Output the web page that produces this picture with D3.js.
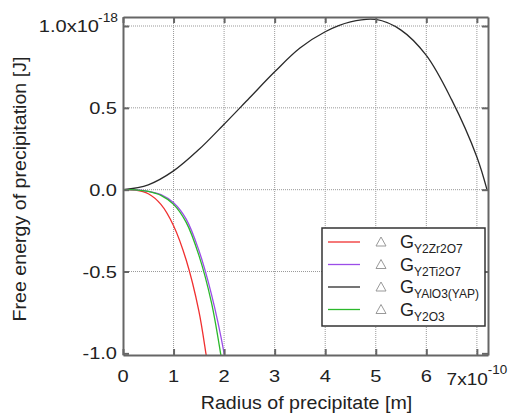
<!DOCTYPE html>
<html>
<head>
<meta charset="utf-8">
<script src="https://cdn.jsdelivr.net/npm/d3@7"></script>
<style>
body { margin: 0; background: #fff; }
text { font-family: "Liberation Sans", Arial, sans-serif; fill: #222; }
</style>
</head>
<body>
<script>
var w = 509, h = 416;
var margin = { left: 123, right: 21, top: 17, bottom: 61 };

// radius in 1e-10 m, energy in 1e-18 J
var rYAP = [0, 0.5, 1, 1.5, 2, 2.5, 3, 3.5, 4, 4.5, 5, 5.5, 6, 6.5, 7, 7.2];
var gYAP = [0, 0.03, 0.115, 0.245, 0.40, 0.56, 0.72, 0.865, 0.965, 1.025, 1.04, 0.975, 0.82, 0.55, 0.20, 0.0];
var rZr = [0, 0.25, 0.5, 0.75, 1, 1.25, 1.5, 1.64, 1.66];
var gZr = [0, -0.003, -0.025, -0.09, -0.22, -0.43, -0.74, -1.0, -1.04];
var rTi = [0, 0.25, 0.5, 0.75, 1, 1.25, 1.5, 1.75, 2.0, 2.02];
var gTi = [0, -0.001, -0.01, -0.03, -0.08, -0.18, -0.37, -0.64, -1.0, -1.04];
var rY2O3 = [0, 0.25, 0.5, 0.75, 1, 1.25, 1.5, 1.75, 1.93, 1.95];
var gY2O3 = [0, -0.001, -0.011, -0.035, -0.09, -0.2, -0.4, -0.69, -1.0, -1.04];

var xTicks = [0, 1, 2, 3, 4, 5, 6, 7];
var yTicks = [-1.0, -0.5, 0.0, 0.5, 1.0];
var yTickLabels = ["-1.0", "-0.5", "0.0", "0.5", "1.0x10"];

var series = [
    { name: "Y2Zr2O7", r: rZr, g: gZr, color: "#f03030" },
    { name: "Y2Ti2O7", r: rTi, g: gTi, color: "#9b4de8" },
    { name: "YAlO3(YAP)", r: rYAP, g: gYAP, color: "#2a2a2a" },
    { name: "Y2O3", r: rY2O3, g: gY2O3, color: "#2bb82b" }
];

var svg = d3.select("body").append("svg").attr("width", w).attr("height", h);

var x = d3.scaleLinear().domain([0, 7.22]).range([margin.left, w - margin.right]);
var y = d3.scaleLinear().domain([-1.01, 1.055]).range([h - margin.bottom, margin.top]);

var x0 = x.range()[0], x1 = x.range()[1], y0 = y.range()[0], y1 = y.range()[1];

// the original font is a bit wider than Liberation Sans, so stretch it
function label(px, py, size, sx, anchor) {
    return svg.append("text")
        .attr("transform", "translate(" + px + "," + py + ") scale(" + sx + ",1)")
        .attr("text-anchor", anchor).attr("font-size", size);
}

// grid
svg.append("g").selectAll("line").data(xTicks.slice(1)).enter().append("line")
    .attr("x1", function (d) { return x(d); }).attr("x2", function (d) { return x(d); })
    .attr("y1", y1).attr("y2", y0)
    .attr("stroke", "#999").attr("stroke-width", 1).attr("stroke-dasharray", "1,1");
svg.append("g").selectAll("line").data(yTicks.slice(1)).enter().append("line")
    .attr("x1", x0).attr("x2", x1)
    .attr("y1", function (d) { return y(d); }).attr("y2", function (d) { return y(d); })
    .attr("stroke", "#999").attr("stroke-width", 1).attr("stroke-dasharray", "1,1");

// curves
svg.append("clipPath").attr("id", "clip").append("rect")
    .attr("x", x0).attr("y", y1).attr("width", x1 - x0).attr("height", y0 - y1);

var line = d3.line()
    .x(function (d) { return x(d[0]); })
    .y(function (d) { return y(d[1]); })
    .curve(d3.curveCatmullRom);

svg.append("g").attr("clip-path", "url(#clip)").selectAll("path")
    .data(series).enter().append("path")
    .attr("d", function (s) { return line(s.r.map(function (v, i) { return [v, s.g[i]]; })); })
    .attr("fill", "none")
    .attr("stroke", function (s) { return s.color; })
    .attr("stroke-width", 1.3);

// axes with inward ticks
var axisColor = "#666";
svg.append("g").attr("transform", "translate(0," + y0 + ")")
    .call(d3.axisBottom(x).tickValues(xTicks).tickSizeInner(-6).tickSizeOuter(0).tickFormat(""));
svg.append("g").attr("transform", "translate(0," + y1 + ")")
    .call(d3.axisTop(x).tickValues(xTicks).tickSizeInner(-6).tickSizeOuter(0).tickFormat(""));
svg.append("g").attr("transform", "translate(" + x0 + ",0)")
    .call(d3.axisLeft(y).tickValues(yTicks).tickSizeInner(-6).tickSizeOuter(0).tickFormat(""));
svg.append("g").attr("transform", "translate(" + x1 + ",0)")
    .call(d3.axisRight(y).tickValues(yTicks).tickSizeInner(-6).tickSizeOuter(0).tickFormat(""));
svg.selectAll(".domain").attr("stroke", axisColor).attr("stroke-width", 2);
svg.selectAll(".tick line").attr("stroke", axisColor).attr("stroke-width", 2);

// tick labels
xTicks.slice(0, 7).forEach(function (d) {
    label(x(d), y0 + 27, 17, 1.18, "middle").text(d);
});
var t7 = label(x(7), y0 + 30, 17, 1.12, "middle");
t7.append("tspan").text("7x10");
t7.append("tspan").attr("dy", -11).attr("font-size", 12).text("-10");

yTicks.forEach(function (d, i) {
    label(i === 4 ? x0 - 24 : x0 - 6, y(d) + 6, 17, 1.18, "end").text(yTickLabels[i]);
});
label(x0 - 5, y(1.0) - 4, 12, 1.15, "end").text("-18");

// axis titles
label((x0 + x1) / 2 + 1, h - 7, 18, 1.09, "middle").text("Radius of precipitate [m]");
svg.append("text").attr("transform", "translate(26," + ((y0 + y1) / 2 + 3) + ") rotate(-90) scale(1.09,1)")
    .attr("text-anchor", "middle").attr("font-size", 18)
    .text("Free energy of precipitation [J]");

// legend
var lg = svg.append("g").attr("transform", "translate(322,228)");
lg.append("rect").attr("width", 163).attr("height", 98)
    .attr("fill", "#fff").attr("stroke", "#333").attr("stroke-width", 1.5);
var rows = lg.selectAll("g.row").data(series).enter().append("g")
    .attr("transform", function (d, i) { return "translate(0," + (14 + i * 22.5) + ")"; });
rows.append("line").attr("x1", 6).attr("x2", 38).attr("y1", 0).attr("y2", 0)
    .attr("stroke", function (d) { return d.color; }).attr("stroke-width", 1.3);
rows.append("path").attr("d", "M54,4 L59,-5 L64,4 Z")
    .attr("fill", "none").attr("stroke", "#999").attr("stroke-width", 1);
var lt = rows.append("text").attr("x", 78).attr("y", 6).attr("font-size", 18);
lt.append("tspan").text("G");
lt.append("tspan").attr("dy", 5).attr("font-size", 12).text(function (d) { return d.name; });
</script>
</body>
</html>
